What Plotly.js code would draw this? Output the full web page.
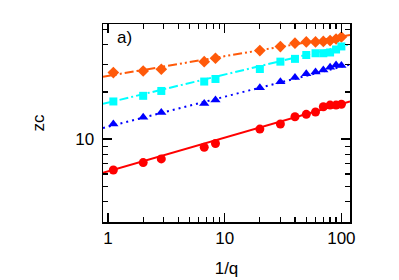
<!DOCTYPE html>
<html>
<head>
<meta charset="utf-8">
<script src="https://cdn.plot.ly/plotly-3.0.1.min.js"></script>
<style>html,body{margin:0;padding:0;background:#fff;}#chart{width:399px;height:280px;}</style>
</head>
<body>
<div id="chart"></div>
<script>
// 1/q values
var xq = [1.11, 2, 2.86, 6.67, 8.33, 20, 30, 40, 50, 60, 70, 80, 90, 100];
// zc series
var orangeZc = [26.6, 27.2, 27.9, 31.2, 32.8, 36.7, 38.9, 40.9, 41.7, 41.7, 42.0, 42.5, 43.5, 44.8];
var cyanZc   = [17.4, 18.9, 20.3, 23.3, 24.2, 28.0, 31.2, 32.5, 34.4, 35.3, 35.3, 35.7, 37.3, 39.0];
var blueZc   = [12.5, 13.8, 14.8, 16.9, 17.8, 21.3, 23.2, 24.7, 26.1, 26.8, 27.6, 28.7, 29.7, 29.5];
var redZc    = [6.37, 7.10, 7.49, 8.89, 9.40, 11.6, 12.5, 13.9, 14.4, 14.9, 16.1, 16.5, 16.5, 16.7];
// fit lines (end points)
var fitX      = [0.905, 118.5];
var fitOrange = [25.0, 46.1];
var fitCyan   = [16.8, 40.2];
var fitBlue   = [11.8, 29.9];
var fitRed    = [6.12, 17.4];
// ticks
var xTickVals = [1, 10, 100];
var xTickText = ['1', '10', '100'];
var xMinorVals = [2, 3, 4, 5, 6, 7, 8, 9, 20, 30, 40, 50, 60, 70, 80, 90];
var yTickVals = [10];
var yTickText = ['10'];
var yMinorVals = [3, 4, 5, 6, 7, 8, 9, 20, 30, 40, 50];

var cOrange = '#ff5a0a', cCyan = '#00ffff', cBlue = '#0000ff', cRed = '#ff0000';

var traces = [
  {x: fitX, y: fitOrange, mode: 'lines', line: {color: cOrange, width: 2, dash: '9px,3px,2px,3px,2px,3px'}},
  {x: fitX, y: fitCyan, mode: 'lines', line: {color: cCyan, width: 2, dash: '9px,3px,2px,3px'}},
  {x: fitX, y: fitBlue, mode: 'lines', line: {color: cBlue, width: 2, dash: '2px,4px'}},
  {x: fitX, y: fitRed, mode: 'lines', line: {color: cRed, width: 2}},
  {x: xq, y: orangeZc, mode: 'markers', marker: {symbol: 'diamond', size: 9, color: cOrange}},
  {x: xq, y: cyanZc, mode: 'markers', marker: {symbol: 'square', size: 8, color: cCyan}},
  {x: xq, y: blueZc, mode: 'markers', marker: {symbol: 'triangle-up', size: 9, color: cBlue}},
  {x: xq, y: redZc, mode: 'markers', marker: {symbol: 'circle', size: 9, color: cRed}}
];

var font = {family: 'Liberation Sans, Arial, sans-serif', size: 17, color: '#000'};

var layout = {
  width: 399, height: 280,
  margin: {l: 103, r: 49, t: 24, b: 58, pad: 0},
  paper_bgcolor: '#fff', plot_bgcolor: '#fff',
  showlegend: false,
  font: font,
  xaxis: {
    type: 'log', range: [Math.log10(0.905), Math.log10(118.5)],
    tickvals: xTickVals, ticktext: xTickText,
    ticks: 'inside', ticklen: 9, tickwidth: 1.5, tickcolor: '#000',
    showline: true, linecolor: '#000', linewidth: 1.5, mirror: 'allticks',
    showgrid: false, zeroline: false,
    minor: {tickvals: xMinorVals, ticks: 'inside', ticklen: 5, tickwidth: 1.2, tickcolor: '#000', showgrid: false},
    tickfont: font,
    title: {text: '1/q', font: font, standoff: 15}
  },
  yaxis: {
    type: 'log', range: [Math.log10(2.97), Math.log10(54.2)],
    tickvals: yTickVals, ticktext: yTickText,
    ticks: 'inside', ticklen: 9, tickwidth: 1.5, tickcolor: '#000',
    showline: true, linecolor: '#000', linewidth: 1.5, mirror: 'allticks',
    showgrid: false, zeroline: false,
    minor: {tickvals: yMinorVals, ticks: 'inside', ticklen: 5, tickwidth: 1.2, tickcolor: '#000', showgrid: false},
    tickfont: font, ticklabelstandoff: 4,
    title: {text: 'zc', font: font, standoff: 26}
  },
  annotations: [{
    text: 'a)', xref: 'paper', yref: 'paper', x: 0.05, y: 0.99,
    xanchor: 'left', yanchor: 'top', showarrow: false, font: font
  }]
};

Plotly.newPlot('chart', traces, layout, {staticPlot: true, displayModeBar: false});
</script>
</body>
</html>
